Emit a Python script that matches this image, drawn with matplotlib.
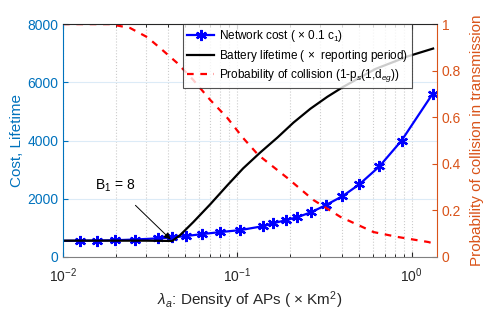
import matplotlib
matplotlib.use("Agg")
import matplotlib.pyplot as plt
from matplotlib.ticker import LogLocator, NullFormatter

plt.rcParams['font.family'] = ['Liberation Sans', 'DejaVu Sans']
plt.rcParams['mathtext.fontset'] = 'custom'
plt.rcParams['mathtext.rm'] = 'Liberation Sans'
plt.rcParams['mathtext.it'] = 'Liberation Sans:italic'

# --- dados ---
densidade_custo = [0.01, 0.0125, 0.0157, 0.0199, 0.0259, 0.0352, 0.0423, 0.0509, 0.0629,
                   0.0798, 0.104, 0.141, 0.161, 0.191, 0.221, 0.266, 0.321, 0.401, 0.502,
                   0.654, 0.877, 1.32]
custo_rede = [555, 560, 565, 575, 600, 640, 670, 720, 786, 855, 923, 1060, 1162, 1265,
              1368, 1538, 1778, 2085, 2496, 3111, 4000, 5600]

densidade_bat = [0.01, 0.02, 0.03, 0.0423, 0.047, 0.0559, 0.070, 0.0877, 0.108, 0.1355,
                 0.170, 0.210, 0.263, 0.329, 0.406, 0.621, 0.961, 1.33]
vida_bateria = [560, 560, 560, 550, 752, 1197, 1812, 2462, 3043, 3590, 4103, 4615, 5094,
                5504, 5846, 6460, 6900, 7160]

densidade_col = [0.01, 0.0186, 0.0243, 0.0304, 0.0361, 0.0452, 0.0559, 0.07, 0.0877, 0.108,
                 0.132, 0.194, 0.273, 0.391, 0.605, 0.832, 1.253, 1.33]
prob_colisao = [1.0, 1.0, 0.983, 0.944, 0.897, 0.833, 0.76, 0.674, 0.597, 0.511, 0.438,
                0.339, 0.245, 0.172, 0.107, 0.086, 0.064, 0.058]

AZUL = '#0072BD'
LARANJA = '#D95319'

fig = plt.figure(figsize=(4.85, 3.13), dpi=100)
ax = fig.add_axes([0.130, 0.179, 0.771, 0.744])
ax2 = ax.twinx()

l1, = ax.plot(densidade_custo, custo_rede, '-', marker=(6, 2, 0), color='blue', lw=1.6,
              ms=8, mew=1.6, markevery=list(range(1, len(densidade_custo))),
              label=r'Network cost ( $\times$ 0.1 c$_1$)')
l2, = ax.plot(densidade_bat, vida_bateria, '-', color='black', lw=1.6,
              label=r'Battery lifetime ( $\times$  reporting period)')
l3, = ax2.plot(densidade_col, prob_colisao, '--', color='red', lw=1.6, dashes=(3, 3),
               label=r'Probability of collision (1-p$_s$(1,d$_{eg}$))')

ax.set_xscale('log')
ax.set_xlim(0.01, 1.4)
ax.set_ylim(0, 8000)
ax2.set_ylim(0, 1)
ax.set_yticks([0, 2000, 4000, 6000, 8000])
ax2.set_yticks([0, 0.2, 0.4, 0.6, 0.8, 1])
ax2.set_yticklabels(['0', '0.2', '0.4', '0.6', '0.8', '1'])
ax.xaxis.set_minor_locator(LogLocator(base=10, subs=range(2, 10)))
ax.xaxis.set_minor_formatter(NullFormatter())

ax.grid(True, axis='y', color='#dcebf7', lw=0.8)
ax.grid(True, axis='x', which='both', color='#cccccc', ls=':', lw=0.8)
ax.set_axisbelow(True)

ax.tick_params(axis='both', which='both', direction='in', top=True, labelsize=10)
ax.tick_params(axis='x', which='major', pad=7)
ax.tick_params(axis='y', colors=AZUL)
ax.tick_params(axis='x', colors='#262626')
ax2.tick_params(axis='y', direction='in', colors=LARANJA, labelsize=10)

ax2.spines['left'].set_color(AZUL)
ax2.spines['right'].set_color(LARANJA)
ax2.spines['bottom'].set_color('#808080')
ax2.spines['top'].set_color('#262626')
for s in ax.spines.values():
    s.set_visible(False)

ax.set_ylabel('Cost, Lifetime', color=AZUL, fontsize=11, labelpad=2)
ax2.set_ylabel('Probability of collision in transmission', color=LARANJA, fontsize=11, labelpad=6)
ax.set_xlabel(r'$\lambda_a$: Density of APs ( $\times$ Km$^2$)', fontsize=11, color='#262626',
              labelpad=3)

ax.annotate(r'B$_1$ = 8', xy=(0.0415, 600), xytext=(0.0199, 2450), fontsize=10,
            ha='center', va='center',
            arrowprops=dict(arrowstyle='-|>', color='black', lw=0.7,
                            shrinkA=9, shrinkB=0, mutation_scale=10))

leg = ax2.legend(handles=[l1, l2, l3], loc='upper left', bbox_to_anchor=(0.321, 1.0),
                 borderaxespad=0, fontsize=8.5, frameon=True, fancybox=False,
                 edgecolor='#262626', handlelength=2.3, borderpad=0.35, labelspacing=0.3,
                 handletextpad=0.4)
leg.get_frame().set_linewidth(0.8)

fig.savefig('out.png', dpi=100)
